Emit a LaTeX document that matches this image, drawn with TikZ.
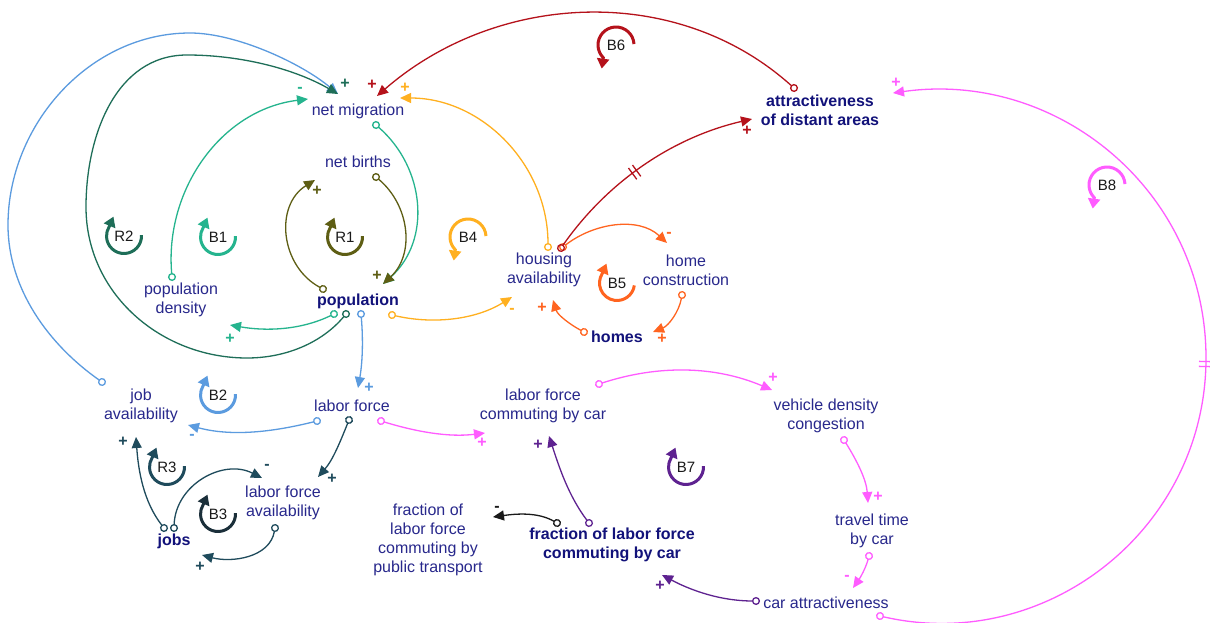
\documentclass[tikz,border=0pt]{standalone}
\usepackage{fontspec}
\setmainfont{Liberation Sans}
\usetikzlibrary{arrows.meta,calc,decorations.markings}
\definecolor{txt}{HTML}{28288C}
\definecolor{txtb}{HTML}{12127A}
\definecolor{lbl}{HTML}{1A1A1A}
\definecolor{cblue}{HTML}{5B9BDF}
\definecolor{cdg}{HTML}{1E6E58}
\definecolor{cteal}{HTML}{25B48E}
\definecolor{colive}{HTML}{5E5E14}
\definecolor{camber}{HTML}{FFB020}
\definecolor{cor}{HTML}{FF6420}
\definecolor{cred}{HTML}{B5121B}
\definecolor{cmag}{HTML}{FF5CFF}
\definecolor{cpur}{HTML}{5E2290}
\definecolor{cslate}{HTML}{1F4B5C}
\definecolor{cblk}{HTML}{1A1A1A}
\definecolor{cb3}{HTML}{1B2F3A}
\begin{document}
\begin{tikzpicture}[x=1pt,y=1pt,
 var/.style={font=\fontsize{16}{19}\selectfont, text=txt, align=center, inner sep=0pt},
 varb/.style={font=\fontsize{16}{19}\selectfont\bfseries, text=txtb, align=center, inner sep=0pt},
 link/.style={line width=1.3pt, color=#1, {Circle[open,length=8pt,width=8pt,sep=-4pt]}-{Triangle[length=11pt,width=10pt]}},
 sgn/.style={font=\fontsize{16}{16}\selectfont\bfseries, inner sep=0pt, pos=1},
 looplbl/.style={font=\fontsize{15}{15}\selectfont, text=lbl, inner sep=0pt},
 loopa/.style={line width=3pt, color=#1, -{Triangle[length=10pt,width=12pt]}},
 delay/.style={postaction={decorate, decoration={markings, mark=at position #1 with {\draw[-, line width=1.3pt] (-2.5pt,-7pt) -- (-2.5pt,7pt) (2.5pt,-7pt) -- (2.5pt,7pt);}}}}
]
\useasboundingbox (0,0) rectangle (1210,-623);
\fill[white] (0,0) rectangle (1210,-623);

% variables
\node[var] (netmig) at (358,-111) {net migration};
\node[var] (netbirths) at (358,-162) {net births};
\node[varb] (pop) at (358,-301) {population};
\node[var] (popdens) at (181,-300) {population\\density};
\node[var] (housing) at (544,-270) {housing\\availability};
\node[var] (homecons) at (686,-270) {home\\construction};
\node[varb] (homes) at (617,-337) {homes};
\node[varb] (attr) at (820,-110) {attractiveness\\of distant areas};
\node[var] (jobav) at (141,-406) {job\\availability};
\node[var] (labor) at (352,-406) {labor force};
\node[var] (lfa) at (283,-503) {labor force\\availability};
\node[varb] (jobs) at (174,-541) {jobs};
\node[var] (lfcc) at (543,-406) {labor force\\commuting by car};
\node[var] (vdc) at (826,-416) {vehicle density\\congestion};
\node[var] (ttc) at (872,-531) {travel time\\by car};
\node[var] (cara) at (826,-603) {car attractiveness};
\node[var] (fpt) at (428,-540) {fraction of\\labor force\\commuting by\\public transport};
\node[varb] (fcar) at (612,-545) {fraction of labor force\\commuting by car};

% waypoints
\coordinate (b1) at (8,-225);
\coordinate (b2) at (190,-33);
\coordinate (g1) at (247,-358);
\coordinate (g2) at (86,-207);
\coordinate (g3) at (187,-55);
\coordinate (m1) at (1206,-358);

% connectors
\draw[link=cblue] ($(jobav)+(-39,24)$) to[out=145,in=-90,looseness=0.9] (b1) to[out=90,in=180,looseness=0.97] (b2) to[out=0,in=140,looseness=0.75] ($(netmig)+(-20,17)$);
\draw[link=cdg] ($(pop)+(-12,-13)$) to[out=230,in=0,looseness=0.9] (g1) to[out=180,in=270,looseness=1] (g2) to[out=90,in=180,looseness=1] (g3) to[out=0,in=150,looseness=0.85] node[sgn,xshift=7pt,yshift=10pt]{+} ($(netmig)+(-20,17)$);
\draw[link=cteal] ($(popdens)+(-9,23)$) to[out=95,in=187,looseness=1] node[sgn,xshift=-8pt,yshift=9pt]{-} ($(netmig)+(-50,12)$);
\draw[link=cteal] ($(netmig)+(18,-14)$) to[out=-41,in=42,looseness=1.05] ($(pop)+(25,17)$);
\draw[link=colive] ($(netbirths)+(18,-15)$) to[out=-40,in=43,looseness=1.05] node[sgn,xshift=-6pt,yshift=8pt]{+} ($(pop)+(25,17)$);
\draw[link=colive] ($(pop)+(-35,12)$) to[out=152,in=212,looseness=1.13] node[sgn,xshift=2pt,yshift=-11pt]{+} ($(netbirths)+(-43,-18)$);
\draw[link=cteal] ($(pop)+(-24,-13)$) to[out=206,in=-10,looseness=0.9] node[sgn,yshift=-14pt]{+} ($(popdens)+(49,-25)$);
\draw[link=cblue] ($(pop)+(3,-13)$) to[out=-85,in=80,looseness=0.9] node[sgn,xshift=11pt]{+} ($(labor)+(6,18)$);
\draw[link=cblue] ($(labor)+(-35,-15)$) to[out=194,in=-15,looseness=0.9] node[sgn,xshift=4pt,yshift=-12pt]{-} ($(jobav)+(47,-19)$);
\draw[link=cslate] ($(labor)+(-3,-14)$) to[out=-112,in=49,looseness=0.9] node[sgn,xshift=14pt,yshift=-2pt]{+} ($(lfa)+(35,26)$);
\draw[link=cslate] ($(jobs)+(0,13)$) to[out=88,in=153,looseness=1.1] node[sgn,xshift=5pt,yshift=11pt]{-} ($(lfa)+(-21,25)$);
\draw[link=cslate] ($(jobs)+(-10,13)$) to[out=128,in=-86,looseness=0.9] node[sgn,xshift=-13pt,yshift=-5pt]{+} ($(jobav)+(-5,-31)$);
\draw[link=cslate] ($(lfa)+(-8,-25)$) to[out=-100,in=-15,looseness=1] node[sgn,xshift=-2pt,yshift=-12pt]{+} ($(jobs)+(28,-14)$);
\draw[link=camber] ($(housing)+(4,23)$) to[out=90,in=0,looseness=1] node[sgn,xshift=5pt,yshift=10pt]{+} ($(netmig)+(42,13)$);
\draw[link=camber] ($(pop)+(34,-14)$) to[out=-13,in=212,looseness=0.9] node[sgn,yshift=-14pt]{-} ($(housing)+(-32,-27)$);
\draw[link=cor] ($(housing)+(19,23)$) to[out=38,in=137,looseness=0.96] node[sgn,xshift=2pt,yshift=8pt]{-} ($(homecons)+(-19,27)$);
\draw[link=cor] ($(homecons)+(-4,-25)$) to[out=-100,in=22,looseness=0.92] node[sgn,xshift=9pt,yshift=-7pt]{+} ($(homes)+(36,5)$);
\draw[link=cor] ($(homes)+(-33,5)$) to[out=152,in=-73,looseness=0.9] node[sgn,xshift=-11pt,yshift=-8pt]{+} ($(housing)+(9,-30)$);
\draw[link=cred] ($(attr)+(-26,22)$) to[out=138,in=41,looseness=0.97] node[sgn,xshift=-5pt,yshift=11pt]{+} ($(netmig)+(19,15)$);
\draw[link=cred, delay=0.45] ($(housing)+(17,22)$) to[out=55,in=193,looseness=0.9] node[sgn,xshift=-5pt,yshift=-12pt]{+} ($(attr)+(-68,-9)$);
\draw[link=cmag] ($(labor)+(29,-15)$) to[out=-17,in=187,looseness=0.9] node[sgn,xshift=-3pt,yshift=-10pt]{+} ($(lfcc)+(-58,-27)$);
\draw[link=cmag] ($(lfcc)+(56,22)$) to[out=18,in=157,looseness=0.92] node[sgn,xshift=1pt,yshift=12pt]{+} ($(vdc)+(-54,26)$);
\draw[link=cmag] ($(vdc)+(18,-24)$) to[out=-58,in=94,looseness=0.9] node[sgn,xshift=10pt,yshift=6pt]{+} ($(ttc)+(-4,28)$);
\draw[link=cmag] ($(ttc)+(-3,-25)$) to[out=-105,in=55,looseness=0.9] node[sgn,xshift=-6pt,yshift=10pt]{-} ($(cara)+(27,15)$);
\draw[link=cmag, delay=0.5] ($(cara)+(54,-13)$) to[out=-13,in=270,looseness=1.05] (m1) to[out=90,in=8,looseness=1.04] node[sgn,xshift=3pt,yshift=10pt]{+} ($(attr)+(73,17)$);
\draw[link=cpur] ($(fcar)+(-23,22)$) to[out=127,in=-72,looseness=0.9] node[sgn,xshift=-11pt,yshift=-9pt]{+} ($(lfcc)+(6,-30)$);
\draw[link=cpur] ($(cara)+(-70,2)$) to[out=180,in=-28,looseness=0.9] node[sgn,xshift=-2pt,yshift=-11pt]{+} ($(fcar)+(50,-30)$);
\draw[link=cblk] ($(fcar)+(-55,22)$) to[out=150,in=8,looseness=0.9] node[sgn,xshift=4pt,yshift=8pt]{-} ($(fpt)+(65,23)$);

% loop markers (clockwise)
\node[looplbl] (lR2) at (124,-236) {R2};
\draw[loopa=cdg] ([shift={(3:17.5pt)}]lR2.center) arc[start angle=3,end angle=-212,radius=17.5pt] -- ++(67:11pt);
\node[looplbl] (lB1) at (218,-237) {B1};
\draw[loopa=cteal] ([shift={(3:17.5pt)}]lB1.center) arc[start angle=3,end angle=-212,radius=17.5pt] -- ++(67:11pt);
\node[looplbl] (lR1) at (345,-237) {R1};
\draw[loopa=colive] ([shift={(3:17.5pt)}]lR1.center) arc[start angle=3,end angle=-212,radius=17.5pt] -- ++(67:11pt);
\node[looplbl] (lB5) at (617,-283) {B5};
\draw[loopa=cor] ([shift={(-8:17.5pt)}]lB5.center) arc[start angle=-8,end angle=-212,radius=17.5pt] -- ++(67:11pt);
\node[looplbl] (lB2) at (218,-395) {B2};
\draw[loopa=cblue] ([shift={(3:17.5pt)}]lB2.center) arc[start angle=3,end angle=-212,radius=17.5pt] -- ++(67:11pt);
\node[looplbl] (lR3) at (167,-467) {R3};
\draw[loopa=cslate] ([shift={(3:17.5pt)}]lR3.center) arc[start angle=3,end angle=-212,radius=17.5pt] -- ++(67:11pt);
\node[looplbl] (lB3) at (218,-514) {B3};
\draw[loopa=cb3] ([shift={(3:17.5pt)}]lB3.center) arc[start angle=3,end angle=-212,radius=17.5pt] -- ++(67:11pt);
\node[looplbl] (lB7) at (686,-467) {B7};
\draw[loopa=cpur] ([shift={(3:17.5pt)}]lB7.center) arc[start angle=3,end angle=-212,radius=17.5pt] -- ++(67:11pt);
% loop markers (counter-clockwise)
\node[looplbl] (lB4) at (468,-237) {B4};
\draw[loopa=camber] ([shift={(3:18pt)}]lB4.center) arc[start angle=3,end angle=225,radius=18pt] -- ++(262:11pt);
\node[looplbl] (lB6) at (616,-45) {B6};
\draw[loopa=cred] ([shift={(3:18pt)}]lB6.center) arc[start angle=3,end angle=225,radius=18pt] -- ++(262:11pt);
\node[looplbl] (lB8) at (1107,-185) {B8};
\draw[loopa=cmag] ([shift={(3:18pt)}]lB8.center) arc[start angle=3,end angle=225,radius=18pt] -- ++(262:11pt);
\end{tikzpicture}
\end{document}
